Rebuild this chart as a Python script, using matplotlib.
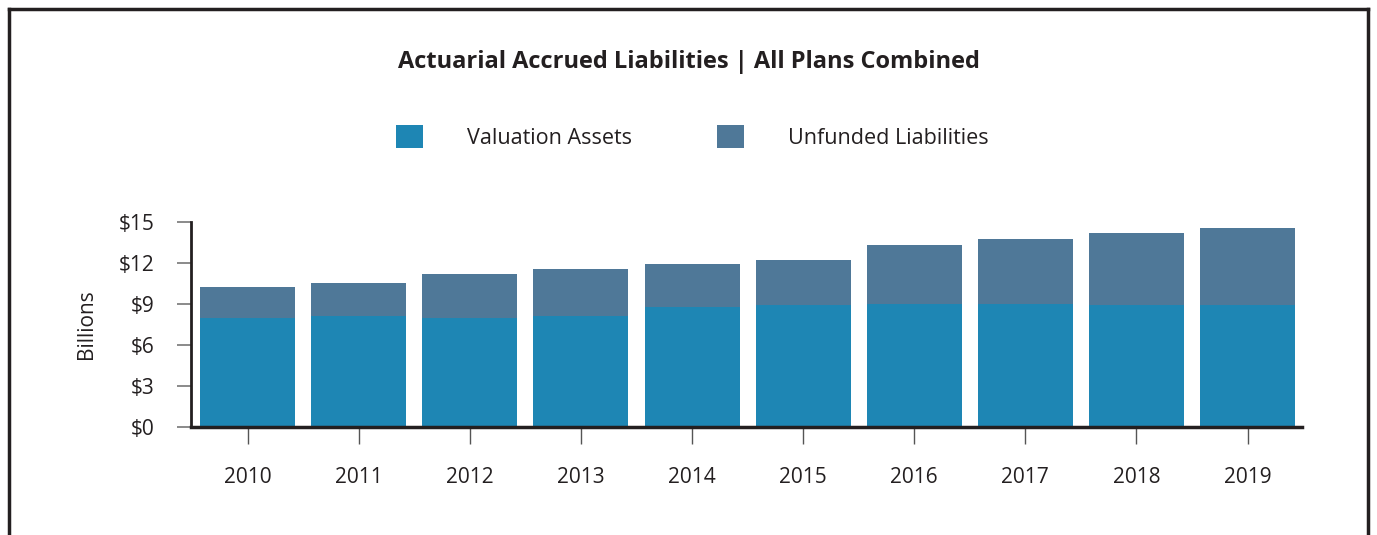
import matplotlib
matplotlib.use("Agg")
import matplotlib.pyplot as plt
from matplotlib.lines import Line2D

years = ["2010", "2011", "2012", "2013", "2014", "2015", "2016", "2017", "2018", "2019"]
valuation_assets = [8.0, 8.1, 8.0, 8.15, 8.75, 8.95, 9.0, 9.0, 8.95, 8.95]
total_liabilities = [10.25, 10.55, 11.2, 11.55, 11.95, 12.25, 13.3, 13.75, 14.2, 14.55]
unfunded = [t - a for t, a in zip(total_liabilities, valuation_assets)]
y_ticks = [0, 3, 6, 9, 12, 15]
y_labels = ["$0", "$3", "$6", "$9", "$12", "$15"]

c_assets = "#1e86b4"
c_unfunded = "#4f7898"
txt = "#231f20"

plt.rcParams["font.family"] = ["Open Sans", "DejaVu Sans"]

fig = plt.figure(figsize=(13.77, 5.35), dpi=100)
ax = fig.add_axes([191/1377, 1-427/535, (1302-191)/1377, (427-222)/535])

x = list(range(len(years)))
b1 = ax.bar(x, valuation_assets, width=0.855, color=c_assets, label="Valuation Assets")
b2 = ax.bar(x, unfunded, bottom=valuation_assets, width=0.855, color=c_unfunded,
            label="Unfunded Liabilities")

ax.set_xlim(-0.51, 9.49)
ax.set_ylim(0, 15)
ax.set_yticks(y_ticks)
ax.set_yticklabels(y_labels, fontsize=15, color=txt)
ax.set_xticks(x)
ax.set_xticklabels(years, fontsize=15, color=txt)
ax.tick_params(axis="x", length=12, width=1, color="#555555", pad=17)
ax.tick_params(axis="y", length=10, width=1.2, color="#777777", pad=16)
for s in ["top", "right"]:
    ax.spines[s].set_visible(False)
ax.spines["left"].set_linewidth(2)
ax.spines["left"].set_color(txt)
ax.spines["bottom"].set_linewidth(2.5)
ax.spines["bottom"].set_color(txt)
ax.set_ylabel("Billions", fontsize=15, color=txt, labelpad=16)

fig.text(0.5, 1-62/535, "Actuarial Accrued Liabilities | All Plans Combined",
         ha="center", va="center", fontsize=17, fontweight="bold", color=txt)

fig.legend(handles=[b1, b2], loc="center", bbox_to_anchor=(0.503, 1-137/535),
           ncol=2, frameon=False, fontsize=15.5, handlelength=1.25, handleheight=1.25,
           handletextpad=2.05, columnspacing=3.95, labelcolor=txt)

# outer frame
fig.add_artist(Line2D([9/1377, 9/1377], [0, 1-9/535], color="#231f20", lw=2.5,
                      transform=fig.transFigure))
fig.add_artist(Line2D([1368/1377, 1368/1377], [0, 1-9/535], color="#231f20", lw=2.5,
                      transform=fig.transFigure))
fig.add_artist(Line2D([9/1377, 1368/1377], [1-9/535, 1-9/535], color="#231f20", lw=2.5,
                      transform=fig.transFigure))

fig.savefig("out.png", dpi=100)
